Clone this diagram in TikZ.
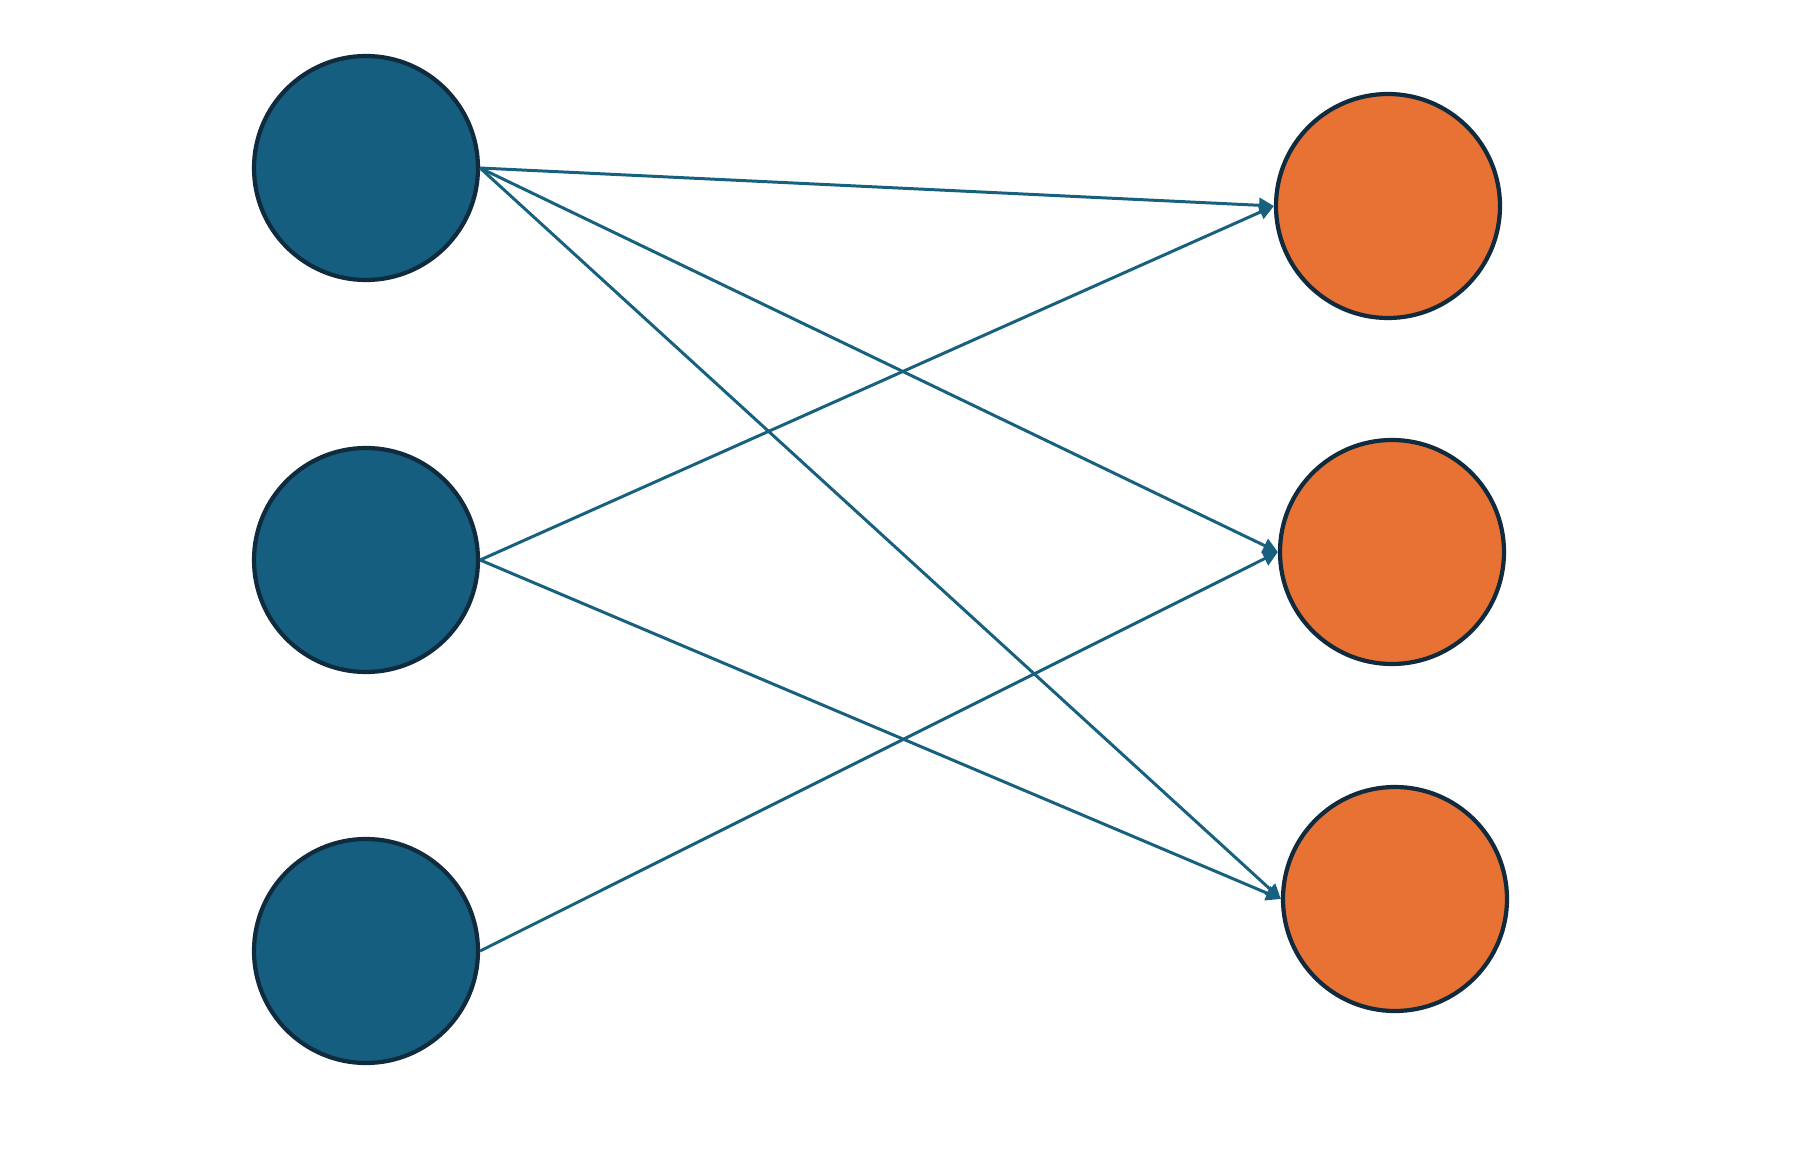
\documentclass[tikz,border=0pt]{standalone}
\usetikzlibrary{arrows.meta,positioning}
\definecolor{inBlue}  {HTML}{155E7F}
\definecolor{outOrg}  {HTML}{E87233}
\definecolor{rimDark} {HTML}{0F2B3D}
\definecolor{edgeBlue}{HTML}{17617F}

\begin{document}
\begin{tikzpicture}[
      unit/.style={circle,draw=rimDark,line width=1.2pt,minimum size=2.24cm,inner sep=0pt},
      link/.style={-{Triangle[length=4.2pt,width=4.2pt]},edgeBlue,line width=0.85pt}]

    \useasboundingbox (0,0) rectangle (18.03,11.62);

    % input layer
    \node[unit,fill=inBlue] (i1) at (3.66,9.94) {};
    \node[unit,fill=inBlue] (i2) at (3.66,6.02) {};
    \node[unit,fill=inBlue] (i3) at (3.66,2.11) {};

    % output layer
    \node[unit,fill=outOrg] (o1) at (13.88,9.56) {};
    \node[unit,fill=outOrg] (o2) at (13.92,6.10) {};
    \node[unit,fill=outOrg] (o3) at (13.95,2.63) {};

    \foreach \a/\b in {i1/o1,i1/o2,i1/o3,i2/o1,i2/o3,i3/o2}
      \draw[link] (\a.east) -- (\b.west);
  \end{tikzpicture}
\end{document}
